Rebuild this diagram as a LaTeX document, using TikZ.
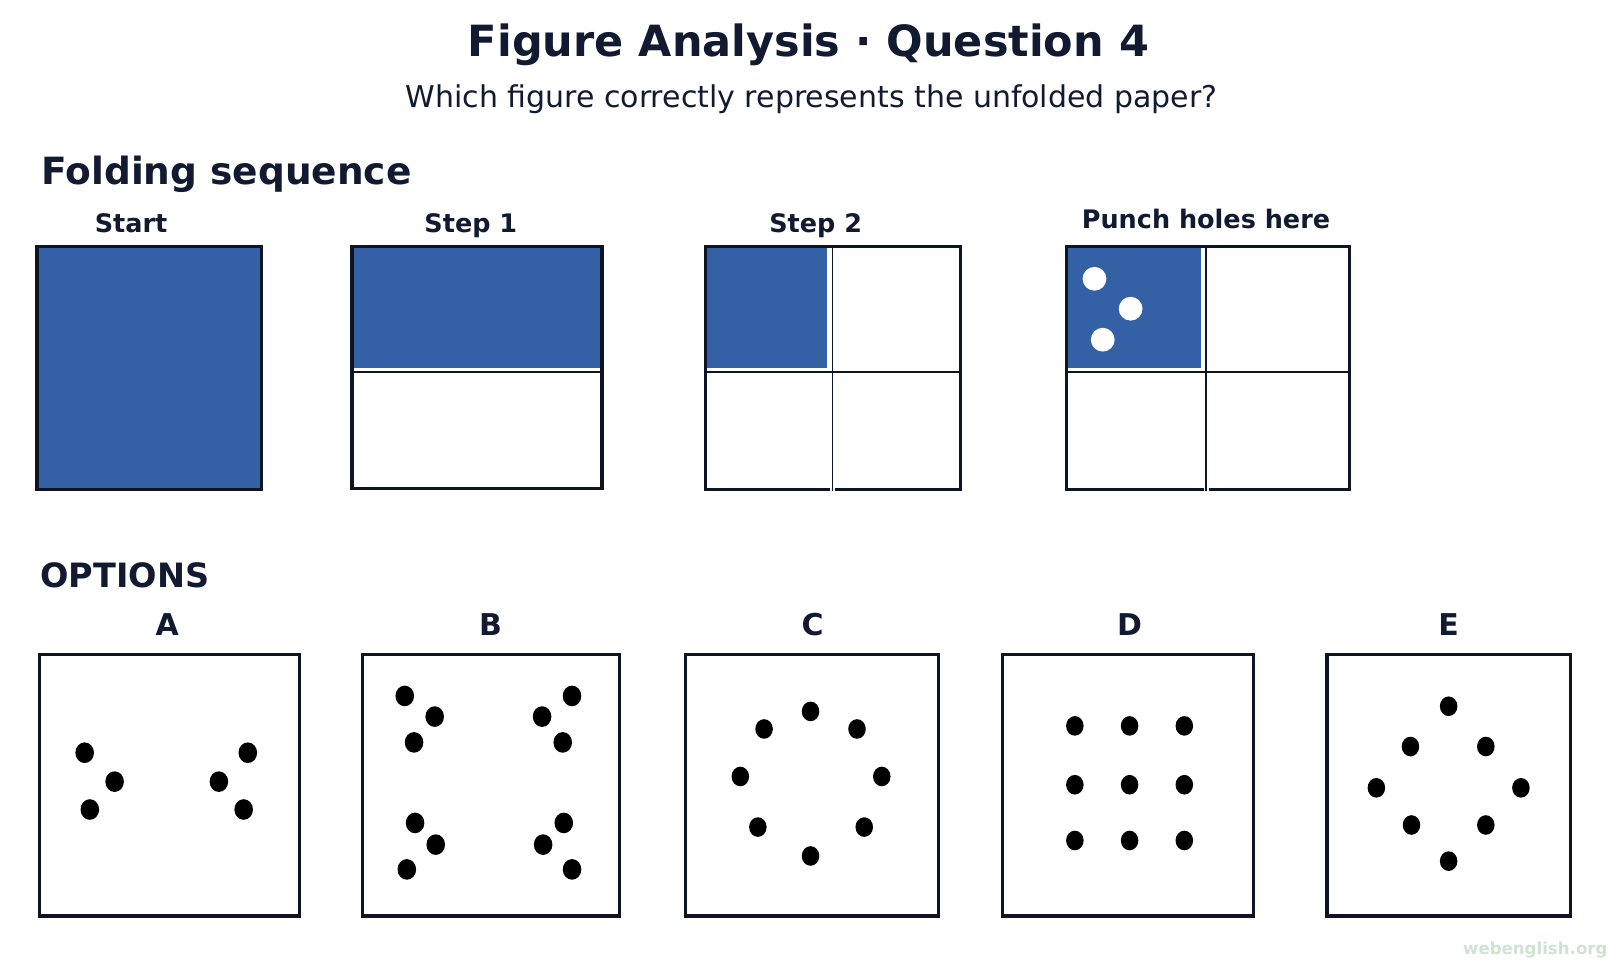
\documentclass[tikz,border=0pt]{standalone}
\usepackage{fontspec}
\setmainfont{DejaVu Sans}
\begin{document}
\begin{tikzpicture}[x=1.0325pt,y=-1.0325pt,
  panel/.style={draw=linec, line width=3.4pt},
  divider/.style={draw=linec, line width=1.7pt},
  gap/.style={draw=white, line width=6pt},
  hole/.style={fill=white},
  dot/.style={fill=black},
  ttl/.style={font=\fontsize{43}{48}\selectfont\bfseries, text=inkc, anchor=base, inner sep=0pt},
  sub/.style={font=\fontsize{30}{34}\selectfont, text=inkc, anchor=base, inner sep=0pt},
  head/.style={text=inkc, anchor=base west, inner sep=0pt},
  lab/.style={font=\fontsize{25.5}{30}\selectfont\bfseries, text=inkc, anchor=base, inner sep=0pt},
  optlab/.style={font=\fontsize{30}{34}\selectfont\bfseries, text=inkc, anchor=base, inner sep=0pt},
  wm/.style={font=\fontsize{16.6}{20}\selectfont\bfseries, text=wmc, anchor=base east, inner sep=0pt}
]
\definecolor{inkc}{HTML}{111A30}
\definecolor{linec}{HTML}{0E1424}
\definecolor{bluec}{HTML}{3461A5}
\definecolor{wmc}{HTML}{D0E2D0}
\useasboundingbox[fill=white] (0,0) rectangle (1568,940);

% titles
\node[ttl] (title) at (783,55) {Figure Analysis · Question 4};
\node[sub] (subtitle) at (786,104) {Which figure correctly represents the unfolded paper?};
\node[head, font=\fontsize{37.5}{42}\selectfont\bfseries] (fold) at (40,179) {Folding sequence};

% labels
\node[lab] (lstart) at (127,225) {Start};
\node[lab] (lstep1) at (456,225) {Step 1};
\node[lab] (lstep2) at (790,225) {Step 2};
\node[lab] (lpunch) at (1168,221) {Punch holes here};

% Start
\fill[bluec] (36,239) rectangle (253,474);
\draw[panel] (36,239) rectangle (253,474);

% Step 1
\fill[bluec] (341,239) rectangle (583,356);
\draw[divider] (341,360) -- (583,360);
\draw[panel] (341,239) rectangle (583,473);

% Step 2
\fill[bluec] (683,239) rectangle (801,356);
\draw[divider] (683,360) -- (930,360);
\draw[panel] (683,239) rectangle (930,474);
\draw[gap, line width=5pt] (806,362) -- (806,476);
\draw[divider, line width=1.3pt] (806,239) -- (806,476);

% Punch holes
\fill[bluec] (1033,239) rectangle (1163,356);
\fill[hole] (1060,270) circle (11.5);
\fill[hole] (1095,299) circle (11.5);
\fill[hole] (1068,329) circle (11.5);
\draw[divider] (1033,360) -- (1307,360);
\draw[panel] (1033,239) rectangle (1307,474);
\draw[gap, line width=5pt] (1168,362) -- (1168,476);
\draw[divider, line width=1.3pt] (1168,239) -- (1168,476);

% Options
\node[head, font=\fontsize{33.5}{38}\selectfont\bfseries] (opts) at (39,569) {OPTIONS};
\node[optlab] (la) at (162,615) {A};
\node[optlab] (lb) at (475,615) {B};
\node[optlab] (lc) at (787,615) {C};
\node[optlab] (ld) at (1094,615) {D};
\node[optlab] (le) at (1403,615) {E};

\draw[panel] (38,634) rectangle (290,887);
\draw[panel] (351,634) rectangle (600,887);
\draw[panel] (664,634) rectangle (909,887);
\draw[panel] (971,634) rectangle (1214,887);
\draw[panel] (1285,634) rectangle (1521,887);

% A
\foreach \p in {(82,729),(111,757),(87,784),(240,729),(212,757),(236,784)}
  \fill[dot] \p ellipse (9 and 10);
% B
\foreach \p in {(392,674),(421,694),(401,719),(554,674),(525,694),(545,719),
                (402,797),(422,818),(394,842),(546,797),(526,818),(554,842)}
  \fill[dot] \p ellipse (9 and 10);
% C
\foreach \p in {(785,689),(740,706),(830,706),(717,752),(854,752),(734,801),(837,801),(785,829)}
  \fill[dot] \p ellipse (8.5 and 9.5);
% D
\foreach \x in {1041,1094,1147}
  \foreach \y in {703,760,814}
    \fill[dot] (\x,\y) ellipse (8.5 and 9.5);
% E
\foreach \p in {(1403,684),(1366,723),(1439,723),(1333,763),(1473,763),(1367,799),(1439,799),(1403,834)}
  \fill[dot] \p ellipse (8.5 and 9.5);

% watermark
\node[wm] (wmark) at (1557,924) {webenglish.org};
\end{tikzpicture}
\end{document}
